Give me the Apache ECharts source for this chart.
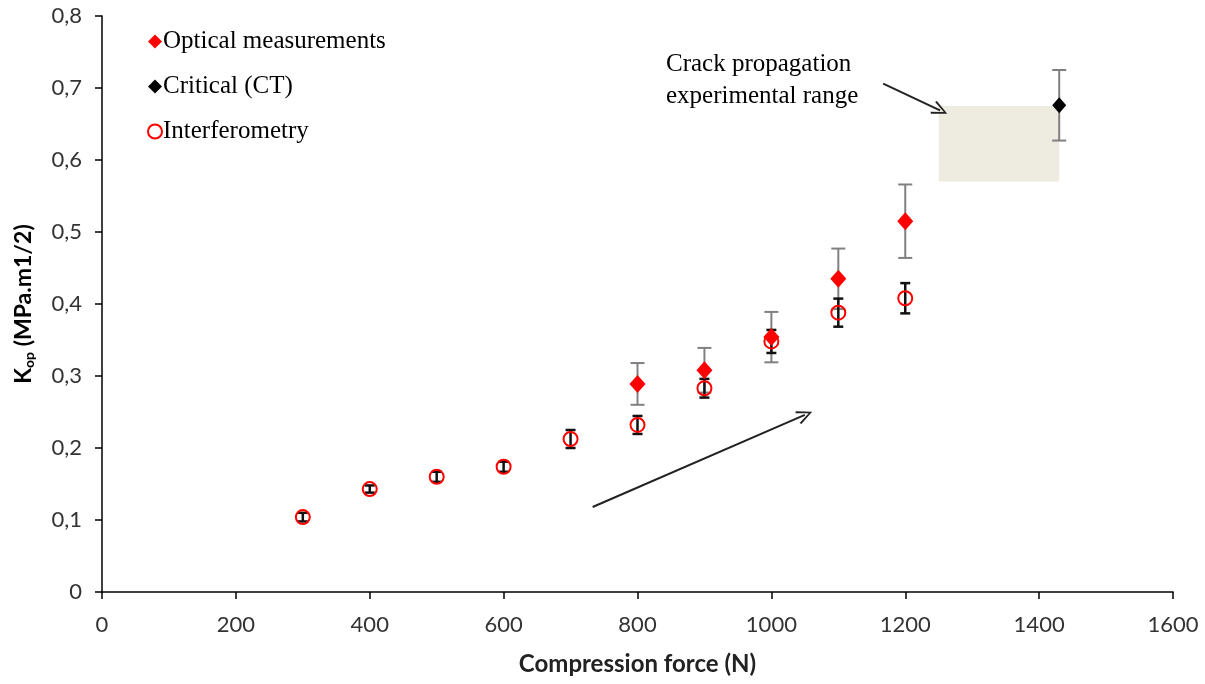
<!DOCTYPE html>
<html>
<head>
<meta charset="utf-8">
<script src="https://cdn.jsdelivr.net/npm/echarts@6/dist/echarts.min.js"></script>
<style>
  html, body { margin: 0; padding: 0; background: #fff; }
  #chart { width: 1205px; height: 684px; }
</style>
</head>
<body>
<div id="chart"></div>
<script>
// Interferometry (open red circles, black error bars)
var interfForce = [300, 400, 500, 600, 700, 800, 900, 1000, 1100, 1200];
var interfK     = [0.104, 0.143, 0.160, 0.174, 0.2125, 0.232, 0.283, 0.348, 0.388, 0.408];
var interfErr   = [0.006, 0.005, 0.007, 0.007, 0.0125, 0.0125, 0.013, 0.016, 0.0195, 0.021];

// Optical measurements (red diamonds, grey error bars)
var opticalForce = [800, 900, 1000, 1100, 1200];
var opticalK     = [0.289, 0.308, 0.354, 0.435, 0.515];
var opticalErr   = [0.029, 0.031, 0.035, 0.042, 0.051];

// Critical (CT)
var ctForce = [1430];
var ctK     = [0.676];
var ctErr   = [0.049];

// shaded "crack propagation experimental range" box [x1, y1, x2, y2]
var rangeBox = [1250, 0.57, 1430, 0.675];
// annotation arrows: [fromX, fromY, toX, toY]
var trendArrow = [733, 0.118, 1050, 0.246];
var rangeArrow = [1167, 0.706, 1252, 0.669];

var axisFont = 'Lato, "Open Sans", sans-serif';
var serifFont = '"Liberation Serif", "DejaVu Serif", serif';
var openArrow = 'path://M0,0L6,10L4.6,10.8L0,2.6L-4.6,10.8L-6,10Z';

function pairs(xs, ys) {
    return xs.map(function(x, i) { return [x, ys[i]]; });
}
function errRows(xs, ys, es) {
    return xs.map(function(x, i) { return [x, ys[i] - es[i], ys[i] + es[i]]; });
}
function errorBar(color, width, capHalf) {
    return function(params, api) {
        var top = api.coord([api.value(0), api.value(2)]);
        var bot = api.coord([api.value(0), api.value(1)]);
        var style = { stroke: color, lineWidth: width };
        return {
            type: 'group',
            children: [
                { type: 'line', shape: { x1: top[0], y1: top[1], x2: bot[0], y2: bot[1] }, style: style },
                { type: 'line', shape: { x1: top[0] - capHalf, y1: top[1], x2: top[0] + capHalf, y2: top[1] }, style: style },
                { type: 'line', shape: { x1: bot[0] - capHalf, y1: bot[1], x2: bot[0] + capHalf, y2: bot[1] }, style: style }
            ]
        };
    };
}

var chart = echarts.init(document.getElementById('chart'));
var option = {
    backgroundColor: '#fff',
    animation: false,
    grid: { left: 102, right: 32, top: 16, bottom: 92 },
    legend: {
        orient: 'vertical',
        left: 142,
        top: 24,
        itemGap: 20,
        itemWidth: 14,
        itemHeight: 14,
        textStyle: { fontFamily: serifFont, fontSize: 25, color: '#000', padding: [0, 0, 0, -4] },
        data: [
            { name: 'Optical measurements', icon: 'diamond' },
            { name: 'Critical (CT)', icon: 'diamond' },
            { name: 'Interferometry', icon: 'circle', itemStyle: { color: '#fff', borderColor: '#ff0000', borderWidth: 2 } }
        ]
    },
    xAxis: {
        type: 'value',
        min: 0, max: 1600, interval: 200,
        name: 'Compression force (N)',
        nameLocation: 'middle',
        nameGap: 60,
        nameTextStyle: { fontFamily: axisFont, fontSize: 24, fontWeight: 'bold', color: '#222' },
        axisLine: { show: true, lineStyle: { color: '#000', width: 1.5 } },
        axisTick: { show: true, inside: false, length: 7, lineStyle: { color: '#000', width: 1.5 } },
        axisLabel: {
            margin: 22, fontFamily: axisFont, fontSize: 22, color: '#333',
            formatter: function(v) { return String(v); }
        },
        splitLine: { show: false }
    },
    yAxis: {
        type: 'value',
        min: 0, max: 0.8, interval: 0.1,
        name: '{k|K}{s|op} (MPa.m1/2)',
        nameLocation: 'middle',
        nameGap: 66,
        nameTextStyle: {
            fontFamily: axisFont, fontSize: 23, fontWeight: 'bold', color: '#000',
            rich: {
                k: { fontFamily: axisFont, fontSize: 23, fontWeight: 'bold', color: '#000' },
                s: { fontFamily: axisFont, fontSize: 14, fontWeight: 'bold', color: '#000', verticalAlign: 'bottom', padding: [10, 0, 0, 0] }
            }
        },
        axisLine: { show: true, lineStyle: { color: '#000', width: 1.5 } },
        axisTick: { show: true, inside: false, length: 7, lineStyle: { color: '#000', width: 1.5 } },
        axisLabel: {
            margin: 20, fontFamily: axisFont, fontSize: 22, color: '#333',
            formatter: function(v) { return v === 0 ? '0' : v.toFixed(1).replace('.', ','); }
        },
        splitLine: { show: false }
    },
    series: [
        {
            name: 'range',
            type: 'custom',
            renderItem: function() { return null; },
            data: [],
            silent: true,
            markArea: {
                silent: true,
                itemStyle: { color: '#EEEBE1' },
                data: [[{ coord: [rangeBox[0], rangeBox[1]] }, { coord: [rangeBox[2], rangeBox[3]] }]]
            },
            markLine: {
                silent: true,
                symbol: ['none', openArrow],
                symbolSize: [14, 16],
                label: { show: false },
                lineStyle: { color: '#222', width: 2, type: 'solid' },
                data: [
                    [{ coord: [trendArrow[0], trendArrow[1]] }, { coord: [trendArrow[2], trendArrow[3]] }],
                    [{ coord: [rangeArrow[0], rangeArrow[1]] }, { coord: [rangeArrow[2], rangeArrow[3]] }]
                ]
            }
        },
        {
            name: 'opticalErr',
            type: 'custom',
            renderItem: errorBar('#808080', 2, 7),
            data: errRows(opticalForce, opticalK, opticalErr),
            z: 3
        },
        {
            name: 'ctErr',
            type: 'custom',
            renderItem: errorBar('#808080', 2, 7),
            data: errRows(ctForce, ctK, ctErr),
            z: 3
        },
        {
            name: 'interfErr',
            type: 'custom',
            renderItem: errorBar('#111', 2.5, 5),
            data: errRows(interfForce, interfK, interfErr),
            z: 4
        },
        {
            name: 'Optical measurements',
            type: 'scatter',
            symbol: 'diamond',
            symbolSize: [16, 18],
            itemStyle: { color: '#ff0000', opacity: 1 },
            data: pairs(opticalForce, opticalK),
            z: 5
        },
        {
            name: 'Critical (CT)',
            type: 'scatter',
            symbol: 'diamond',
            symbolSize: [14, 16],
            itemStyle: { color: '#000', opacity: 1 },
            data: pairs(ctForce, ctK),
            z: 5
        },
        {
            name: 'Interferometry',
            type: 'scatter',
            symbol: 'circle',
            symbolSize: 14,
            itemStyle: { color: 'rgba(255,255,255,0)', borderColor: '#ff0000', borderWidth: 2, opacity: 1 },
            data: pairs(interfForce, interfK),
            z: 6
        }
    ],
    graphic: [{
        type: 'text',
        left: 666,
        top: 48,
        style: {
            text: 'Crack propagation\nexperimental range',
            fontFamily: serifFont,
            fontSize: 25,
            lineHeight: 32,
            fill: '#000'
        }
    }]
};
chart.setOption(option);
</script>
</body>
</html>
